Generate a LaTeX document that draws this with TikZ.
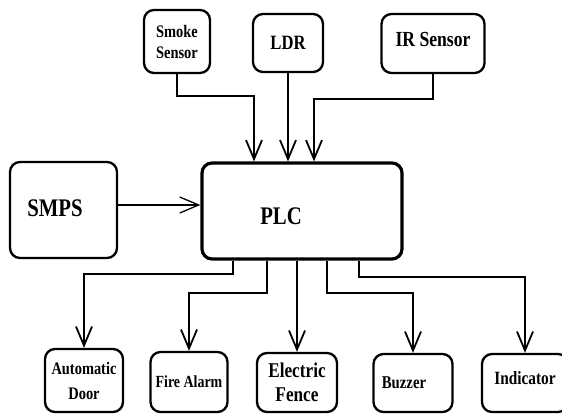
\documentclass[tikz,border=0pt]{standalone}
\usepackage{fontspec}
\setmainfont[FakeStretch=0.82]{Liberation Serif}
\usetikzlibrary{arrows.meta,calc}

\begin{document}
\begin{tikzpicture}[x=1pt,y=-1pt,
	unit/.style={draw,rounded corners=10pt,line width=2.3pt,align=center,inner sep=0pt},
	arr/.style={-{Straight Barb[length=19pt,width=16pt]},line width=1.8pt},
	fs/.style 2 args={font=\fontsize{#1}{#2}\selectfont\bfseries}]
		\useasboundingbox (0,0) rectangle (562,414);
		\node[unit,fs={17.6}{21},minimum width=66pt,minimum height=63pt] (smoke) at (177,41.5) {Smoke\\Sensor};
		\node[unit,fs={20.3}{24},minimum width=70pt,minimum height=58pt] (ldr) at (288,43) {LDR};
		\node[unit,minimum width=103pt,minimum height=59pt,label={[fs={21.5}{26},yshift=4pt]center:IR Sensor}] (ir) at (433,43.5) {};
		\node[unit,minimum width=107pt,minimum height=96pt,label={[fs={25.3}{30},xshift=-8.5pt,yshift=2pt]center:SMPS}] (smps) at (63.5,210) {};
		\node[unit,line width=3.2pt,minimum width=200pt,minimum height=96pt,label={[fs={25.3}{30},xshift=-21pt,yshift=-5pt]center:PLC}] (plc) at (302,211) {};
		\node[unit,fs={17.6}{25},minimum width=78pt,minimum height=63pt] (door) at (84,380.5) {Automatic\\Door};
		\node[unit,fs={17}{20},minimum width=77pt,minimum height=60pt] (alarm) at (189,382) {Fire Alarm};
		\node[unit,fs={21}{24},minimum width=80pt,minimum height=59pt] (fence) at (297,382.5) {Electric\\Fence};
		\node[unit,minimum width=79pt,minimum height=58pt,label={[fs={18}{21},xshift=-9pt]center:Buzzer}] (buzz) at (413,383) {};
		\node[unit,minimum width=86pt,minimum height=58pt,label={[fs={18.7}{22},yshift=5pt]center:Indicator}] (ind) at (525,383) {};
		\coordinate (b1) at (254,96);
		\coordinate (b3) at (314,99);
		\draw[arr] (smoke.south) |- (b1) -- (b1 |- plc.north);
		\draw[arr] (ldr.south) -- (ldr.south |- plc.north);
		\draw[arr] (ir.south) |- (b3) -- (b3 |- plc.north);
		\draw[arr,line width=1.3pt] ($(smps.east)+(0,-5)$) coordinate (feed) -- (feed -| plc.west);
		\coordinate (c1) at (233,274);
		\coordinate (c2) at (267,293);
		\coordinate (c4) at (327,293);
		\coordinate (c5) at (359,277);
		\draw[arr] (c1 |- plc.south) -- (c1) -| (door.north);
		\draw[arr] (c2 |- plc.south) -- (c2) -| (alarm.north);
		\draw[arr] (fence.north |- plc.south) -- (fence.north);
		\draw[arr] (c4 |- plc.south) -- (c4) -| (buzz.north);
		\draw[arr] (c5 |- plc.south) -- (c5) -| (ind.north);
		\end{tikzpicture}
\end{document}
